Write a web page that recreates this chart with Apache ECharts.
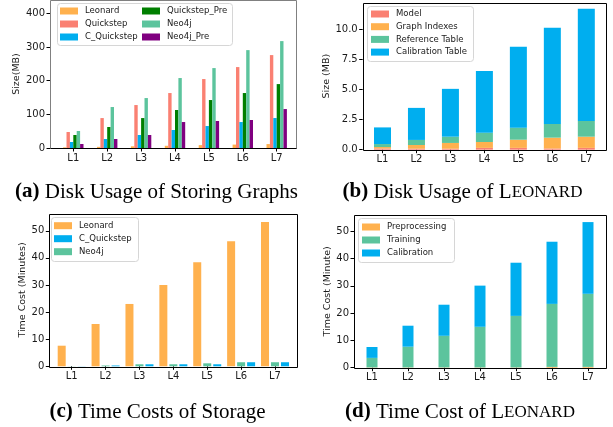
<!DOCTYPE html>
<html><head><meta charset="utf-8">
<script src="https://cdn.jsdelivr.net/npm/echarts@6/dist/echarts.min.js"></script>
<style>html,body{margin:0;padding:0;background:#fff}#c{width:613px;height:427px}</style>
</head><body><div id="c"></div>
<script>
const categories = ['L1', 'L2', 'L3', 'L4', 'L5', 'L6', 'L7'];
// (a) Disk usage of storing graphs (MB)
const aLeonard = [1.85, 3.47, 5.05, 6.54, 8.54, 10.12, 11.7];
const aQuickstep = [47.5, 89, 127.7, 163.4, 205, 240.6, 276.2];
const aCQuickstep = [17.8, 26.7, 38.6, 53.5, 65.3, 77.2, 89.1];
const aQuickstepPre = [38.6, 62.4, 89, 112.9, 142.6, 163.4, 190];
const aNeo4j = [50.5, 121.8, 148.5, 208, 237.6, 291, 317.8];
const aNeo4jPre = [11.9, 26.7, 38.6, 77.2, 80.2, 83.2, 115.8];
// (b) Disk usage of Leonard (MB), stacked
const bModel = [0.1, 0.08, 0.08, 0.15, 0.15, 0.1, 0.15];
const bGraphIndexes = [0.12, 0.31, 0.48, 0.49, 0.68, 0.9, 0.93];
const bReferenceTable = [0.25, 0.42, 0.52, 0.77, 1.0, 1.14, 1.31];
const bCalibrationTable = [1.38, 2.66, 3.97, 5.13, 6.71, 7.98, 9.31];
// (c) Time costs of storage (minutes)
const cLeonard = [7.6, 15.6, 23.0, 30.0, 38.4, 46.1, 53.2];
const cNeo4j = [0.05, 0.3, 0.75, 0.75, 1.1, 1.5, 1.5];
const cCQuickstep = [0.05, 0.3, 0.75, 0.75, 0.75, 1.5, 1.5];
// (d) Time cost of Leonard (minutes), stacked
const dPreprocessing = [0.1, 0.1, 0.1, 0.1, 0.1, 0.3, 0.3];
const dTraining = [3.5, 7.6, 11.6, 14.9, 18.9, 23.1, 26.8];
const dCalibration = [4.0, 7.7, 11.4, 15.1, 19.5, 22.8, 26.3];
// tick labels
const aTicks = [0, 100, 200, 300, 400];
const bTicks = ['0.0', '2.5', '5.0', '7.5', '10.0'];
const cdTicks = [0, 10, 20, 30, 40, 50];

const C = {
  orange: '#FFB14E', salmon: '#FA8072', blue: '#00AEEF',
  teal: '#5CC49D', green: '#007F00', purple: '#800080'
};
const F = 'DejaVu Sans';
const SERIF = 'Liberation Serif';

// frames (plot boxes) and plotting grids
const frames = [
  {x: 50, y: 0, w: 246, h: 148, color: '#808080'},
  {x: 362.7, y: 2.7, w: 243.3, h: 147, color: '#000'},
  {x: 49.3, y: 213.7, w: 248.4, h: 152.6, color: '#000'},
  {x: 354, y: 215, w: 252, h: 152.7, color: '#000'}
];
const grids = [
  {left: 56.35, top: 0, width: 237.3, height: 148},
  {left: 365.5, top: 2.7, width: 237.8, height: 147},
  {left: 54.75, top: 213.7, width: 237.2, height: 152.6},
  {left: 354, top: 215, width: 252, height: 152.7}
];
const yConf = [
  {max: 440, interval: 100, name: 'Size(MB)', gap: 17, fmt: v => (aTicks.indexOf(v) >= 0 ? String(v) : '')},
  {max: 12.2, interval: 2.5, name: 'Size (MB)', gap: 22, fmt: v => { const s = v.toFixed(1); return bTicks.indexOf(s) >= 0 ? s : ''; }},
  {max: 56.3, interval: 10, name: 'Time Cost (Minutes)', gap: 19, fmt: v => (cdTicks.indexOf(v) >= 0 ? String(v) : '')},
  {max: 56, interval: 10, name: 'Time Cost (Minute)', gap: 16, fmt: v => (cdTicks.indexOf(v) >= 0 ? String(v) : '')}
];

const xAxes = grids.map((g, i) => ({
  type: 'category', gridIndex: i, data: categories,
  axisLine: {show: false},
  axisTick: {show: true, alignWithLabel: true, length: 3.5, lineStyle: {color: '#000', width: 1}},
  axisLabel: {fontFamily: F, fontSize: 10, color: '#1a1a1a', margin: 5}
}));
const yAxes = grids.map((g, i) => ({
  type: 'value', gridIndex: i, min: 0, max: yConf[i].max, interval: yConf[i].interval,
  offset: g.left - frames[i].x,
  axisLine: {show: false},
  axisTick: {show: true, length: 3.5, lineStyle: {color: '#000', width: 1}},
  splitLine: {show: false},
  axisLabel: {fontFamily: F, fontSize: 10, color: '#1a1a1a', margin: 5, showMaxLabel: false, formatter: yConf[i].fmt},
  name: yConf[i].name, nameLocation: 'middle', nameGap: yConf[i].gap,
  nameTextStyle: {fontFamily: F, fontSize: 9.5, color: '#1a1a1a'}
}));

function bar(name, data, color, gi, extra) {
  return Object.assign({
    type: 'bar', name: name, data: data, xAxisIndex: gi, yAxisIndex: gi,
    itemStyle: {color: color}, animation: false, emphasis: {disabled: true}
  }, extra || {});
}
const aEx = {barWidth: 3.4, barGap: '0%'};
const bEx = {barWidth: 17, stack: 'b'};
const cEx = {barWidth: 8, barGap: '25%'};
const dEx = {barWidth: 11, stack: 'd'};
const series = [
  bar('Leonard', aLeonard, C.orange, 0, aEx),
  bar('Quickstep', aQuickstep, C.salmon, 0, aEx),
  bar('C_Quickstep', aCQuickstep, C.blue, 0, aEx),
  bar('Quickstep_Pre', aQuickstepPre, C.green, 0, aEx),
  bar('Neo4j', aNeo4j, C.teal, 0, aEx),
  bar('Neo4j_Pre', aNeo4jPre, C.purple, 0, aEx),
  bar('Model', bModel, C.salmon, 1, bEx),
  bar('Graph Indexes', bGraphIndexes, C.orange, 1, bEx),
  bar('Reference Table', bReferenceTable, C.teal, 1, bEx),
  bar('Calibration Table', bCalibrationTable, C.blue, 1, bEx),
  bar('Leonard', cLeonard, C.orange, 2, cEx),
  bar('Neo4j', cNeo4j, C.teal, 2, cEx),
  bar('C_Quickstep', cCQuickstep, C.blue, 2, cEx),
  bar('Preprocessing', dPreprocessing, C.orange, 3, dEx),
  bar('Training', dTraining, C.teal, 3, dEx),
  bar('Calibration', dCalibration, C.blue, 3, dEx)
];

function legend(data, left, top, gap) {
  return {
    data: data, orient: 'vertical', left: left, top: top, padding: 0,
    itemWidth: 18, itemHeight: 7, itemGap: gap, icon: 'rect', selectedMode: false, z: 10,
    textStyle: {fontFamily: F, fontSize: 8.5, color: '#1a1a1a', lineHeight: 10, padding: [0, 0, 0, 2]}
  };
}
const legends = [
  legend(['Leonard', 'Quickstep', 'C_Quickstep'], 60, 6, 3),
  legend(['Quickstep_Pre', 'Neo4j', 'Neo4j_Pre'], 142, 6, 3),
  legend(['Model', 'Graph Indexes', 'Reference Table', 'Calibration Table'], 371, 9, 2.7),
  legend(['Leonard', 'C_Quickstep', 'Neo4j'], 54, 220.7, 3),
  legend(['Preprocessing', 'Training', 'Calibration'], 362, 222, 3)
];

const crisp = v => Math.round(v) + 0.5;
const graphics = [];
// legend boxes
[[57, 3, 175, 42], [367, 6, 106, 55], [51, 217, 87, 44], [358, 218, 96, 44]].forEach(b => {
  graphics.push({type: 'rect', z: 8, shape: {x: crisp(b[0]), y: crisp(b[1]), width: b[2], height: b[3], r: 3},
    style: {fill: 'rgba(255,255,255,0.85)', stroke: '#d6d6d6', lineWidth: 1}});
});
// plot frames
frames.forEach(f => {
  graphics.push({type: 'rect', z: 9, shape: {x: crisp(f.x), y: crisp(f.y), width: Math.round(f.w), height: Math.round(f.h)},
    style: {fill: null, stroke: f.color, lineWidth: 1}});
});
// black bottom spine for (a)
graphics.push({type: 'line', z: 9, shape: {x1: crisp(frames[0].x), y1: crisp(148), x2: crisp(frames[0].x + frames[0].w), y2: crisp(148)},
  style: {stroke: '#000', lineWidth: 1.2}});
// captions
const rich = {
  b: {fontFamily: SERIF, fontSize: 21, fontWeight: 'bold', fill: '#000'},
  n: {fontFamily: SERIF, fontSize: 21, fill: '#000'},
  sc: {fontFamily: SERIF, fontSize: 17, fill: '#000', verticalAlign: 'bottom', padding: [0, 0, 1, 0]}
};
function caption(text, x, y) {
  return {type: 'text', x: x, y: y, z: 10,
    style: {text: text, fontFamily: SERIF, fontSize: 21, fill: '#000', align: 'center', verticalAlign: 'middle', rich: rich}};
}
graphics.push(caption('{b|(a)}{n| Disk Usage of Storing Graphs}', 156.5, 192));
graphics.push(caption('{b|(b)}{n| Disk Usage of L}{sc|EONARD}', 462.5, 192));
graphics.push(caption('{b|(c)}{n| Time Costs of Storage}', 157.5, 412));
graphics.push(caption('{b|(d)}{n| Time Cost of L}{sc|EONARD}', 460, 412));

const chart = echarts.init(document.getElementById('c'), null, {renderer: 'canvas'});
chart.setOption({
  animation: false,
  backgroundColor: '#fff',
  grid: grids.map(g => Object.assign({containLabel: false}, g)),
  xAxis: xAxes,
  yAxis: yAxes,
  legend: legends,
  series: series,
  graphic: graphics
});
</script></body></html>
